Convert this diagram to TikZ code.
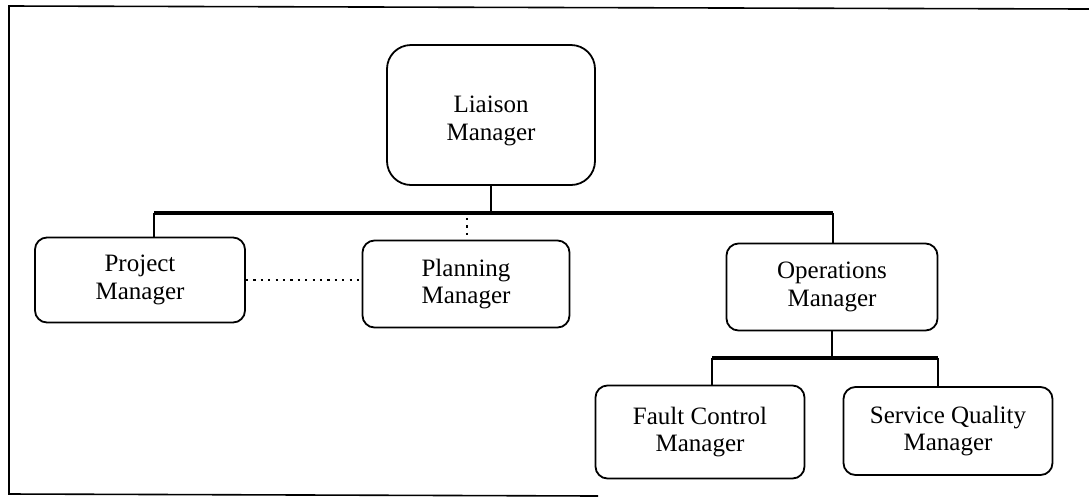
\documentclass[tikz,border=0pt]{standalone}
\usepackage{fontspec}
\setmainfont{Liberation Serif}
\begin{document}
\begin{tikzpicture}[x=0.5pt,y=-0.5pt,
  box/.style={draw,line width=0.9pt,rounded corners=6pt,inner sep=0pt,align=center,
    font=\fontsize{12.5}{13.6}\selectfont},
  bus/.style={line width=1.6pt},
  link/.style={line width=1.2pt},
  dotlink/.style={line width=1.3pt,dash pattern=on 1.1pt off 2.6pt},
  frame/.style={line width=0.8pt}]
\useasboundingbox (0,0) rectangle (1089,500);
% frame
\coordinate (f1) at (1089,9);
\coordinate (f2) at (9,6);
\coordinate (f3) at (9,494);
\coordinate (f4) at (598,496);
\draw[frame] (f1) -- (f2) -- (f3) -- (f4);
% nodes
\node[box,minimum width=104pt,minimum height=70pt,rounded corners=12pt] (lia) at (491,115)
  {\raisebox{-3pt}[\height][\depth]{\begin{tabular}{@{}c@{}}Liaison\\Manager\end{tabular}}};
\node[box,minimum width=105pt,minimum height=42.5pt] (proj) at (140,280) {Project\\Manager};
\node[box,minimum width=103.5pt,minimum height=43.5pt] (plan) at (466,284) {Planning\\Manager};
\node[box,minimum width=105.5pt,minimum height=43.5pt] (ops) at (832,287) {Operations\\Manager};
\node[box,minimum width=104.5pt,minimum height=46.5pt] (fault) at (700,432) {Fault Control\\Manager};
\node[box,minimum width=104.5pt,minimum height=44pt] (serv) at (948,431) {Service Quality\\Manager};
% buses
\coordinate (b1) at (154,213);
\coordinate (b2) at (833,213);
\coordinate (s1) at (712,358);
\coordinate (s2) at (938,358);
\draw[bus] (b1) -- (b2);
\draw[link] (lia.south) -- (lia.south |- b1);
\draw[link] (b1) -- (b1 |- proj.north);
\draw[link] (b2) -- (ops.north -| b2);
\draw[bus] (s1) -- (s2);
\draw[link] (ops.south) -- (ops.south |- s1);
\draw[link] (s1) -- (s1 |- fault.north);
\draw[link] (s2) -- (s2 |- serv.north);
% dotted links
\coordinate (d1) at (467,218);
\draw[dotlink] (d1) -- (d1 |- plan.north);
\draw[dotlink] (proj.east) -- (proj.east -| plan.west);
\end{tikzpicture}
\end{document}
